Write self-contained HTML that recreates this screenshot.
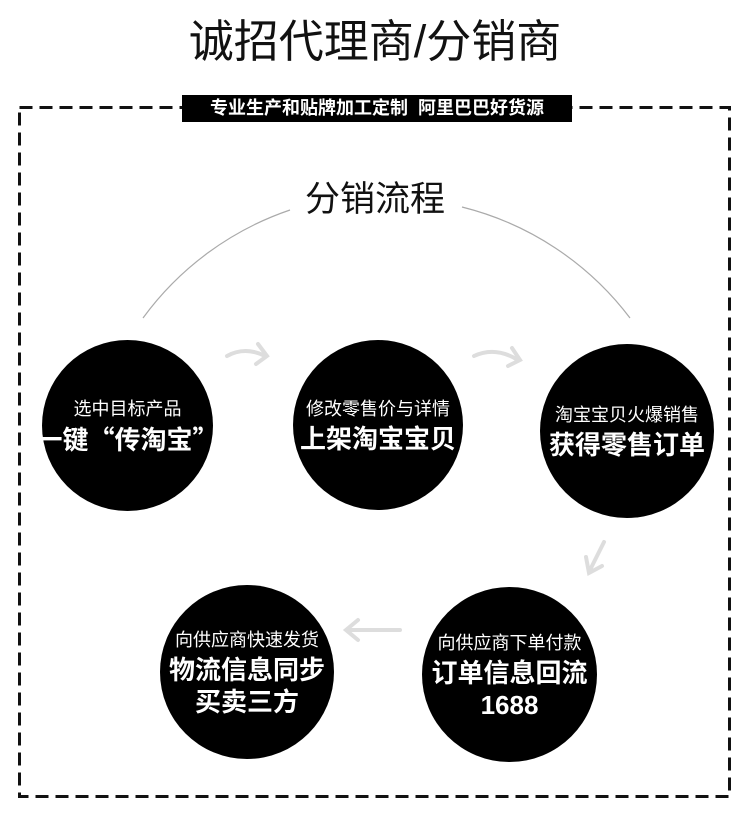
<!DOCTYPE html>
<html><head><meta charset="utf-8"><style>
body{margin:0;width:750px;height:840px;background:#fff;position:relative;overflow:hidden;font-family:"Liberation Sans","Noto Sans CJK SC",sans-serif}
.abs{position:absolute}
.c{position:absolute;border-radius:50%;background:#000;color:#fff;text-align:center;display:flex;flex-direction:column;justify-content:center;align-items:center;white-space:nowrap}
.s{font-size:18px;line-height:28px}
.b{font-size:26px;font-weight:bold;line-height:32px}
.q{font-family:"Noto Sans CJK SC",sans-serif}
</style></head><body>
<div class="abs" style="left:0;width:750px;top:12px;text-align:center;font-size:45px;line-height:60px;color:#111">诚招代理商/分销商</div>
<svg class="abs" style="left:0;top:0" width="750" height="840">
<rect x="19.5" y="107.5" width="710" height="689" fill="none" stroke="#111" stroke-width="3" stroke-dasharray="13 7"/>
<path d="M143 318 A302.6 302.6 0 0 1 290 210" fill="none" stroke="#aaa" stroke-width="1.2"/>
<path d="M462 207 A302.6 302.6 0 0 1 630 318" fill="none" stroke="#aaa" stroke-width="1.2"/>
<g fill="none" stroke="#ddd" stroke-width="4" stroke-linecap="round">
<path d="M227 356 Q245 346 265 356 M258 344 L267 356 L256 364"/>
<path d="M474 356 Q495 346 518 360 M512 348 L520 360 L508 366"/>
<path d="M604 542 L589 572 M586 557 L589 573 L602 566"/>
<path d="M400 630 L348 630 M358 620 L346 630 L358 640"/>
</g>
</svg>
<div class="abs" style="left:182px;top:95px;width:390px;height:27px;background:#000;color:#fff;font-size:18px;font-weight:bold;line-height:27px;text-align:center">专业生产和贴牌加工定制&nbsp; 阿里巴巴好货源</div>
<div class="abs" style="left:0;width:750px;top:175px;text-align:center;font-size:35px;line-height:50px;color:#111">分销流程</div>
<div class="c" style="left:42px;top:340px;width:171px;height:171px"><div class="s">选中目标产品</div><div class="b">一键<span class="q">“</span>传淘宝<span class="q">”</span></div></div>
<div class="c" style="left:293px;top:340px;width:170px;height:170px"><div class="s">修改零售价与详情</div><div class="b">上架淘宝宝贝</div></div>
<div class="c" style="left:540px;top:344px;width:174px;height:174px"><div class="s">淘宝宝贝火爆销售</div><div class="b">获得零售订单</div></div>
<div class="c" style="left:160px;top:585px;width:174px;height:174px"><div class="s">向供应商快速发货</div><div class="b">物流信息同步<br>买卖三方</div></div>
<div class="c" style="left:422px;top:587px;width:175px;height:175px"><div class="s">向供应商下单付款</div><div class="b">订单信息回流<br>1688</div></div>
</body></html>
